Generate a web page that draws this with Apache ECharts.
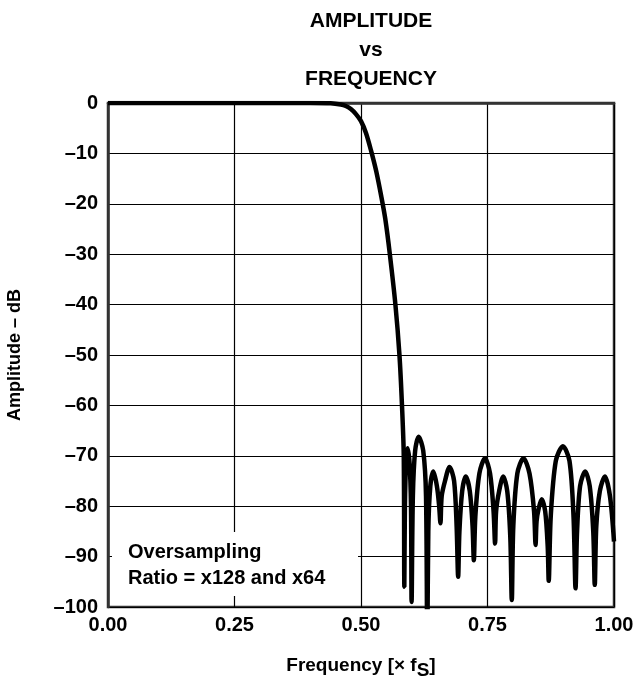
<!DOCTYPE html>
<html>
<head>
<meta charset="utf-8">
<script src="https://cdn.jsdelivr.net/npm/echarts@6/dist/echarts.min.js"></script>
<style>
html,body{margin:0;padding:0;background:#fff;}
#c{width:635px;height:680px;}
</style>
</head>
<body>
<div id="c"></div>
<script>
// Frequency (x fS) and amplitude (dB)
var freq = [0.00, 0.10, 0.20, 0.30, 0.40, 0.44, 0.46, 0.47, 0.48, 0.49, 0.50, 0.51, 0.52, 0.53, 0.54, 0.548, 0.557, 0.568, 0.576, 0.581, 0.5845,
  0.5856, 0.5868, 0.589, 0.592, 0.596, 0.5988,
  0.600, 0.6025, 0.607, 0.614, 0.623, 0.6285,
  0.631, 0.633, 0.637, 0.643, 0.650, 0.6545,
  0.657, 0.6595, 0.666, 0.675, 0.684, 0.689,
  0.692, 0.6945, 0.700, 0.707, 0.715, 0.7205,
  0.723, 0.726, 0.734, 0.745, 0.755, 0.762,
  0.765, 0.767, 0.773, 0.781, 0.789, 0.795,
  0.798, 0.801, 0.809, 0.821, 0.833, 0.842,
  0.845, 0.847, 0.851, 0.857, 0.864, 0.869,
  0.871, 0.875, 0.885, 0.899, 0.912, 0.920,
  0.924, 0.927, 0.933, 0.943, 0.952, 0.959,
  0.962, 0.965, 0.972, 0.982, 0.992, 1.000];
var ampDb = [0, 0, 0, 0, 0, -0.05, -0.3, -0.6, -1.2, -2.2, -3.6, -6, -9.5, -13.5, -18.5, -23, -30, -40, -50, -60, -70,
  -96, -80, -71.5, -68.5, -71.5, -80,
  -99, -78, -69, -66.2, -69, -78,
  -110, -85, -76, -73.1, -76, -80,
  -83.4, -78, -75, -72.2, -75, -84,
  -94, -85, -77, -74.1, -77, -84,
  -90.7, -82, -73.5, -70.5, -73.5, -81,
  -87.4, -81, -77, -74.1, -77, -86,
  -98.6, -84, -73.5, -70.5, -73.5, -81,
  -87.7, -83, -80.5, -78.6, -81, -88,
  -94.8, -82, -71, -68.1, -71, -82,
  -96.3, -85, -76, -73.1, -76, -85,
  -95.6, -84, -77, -74.1, -78, -87];
var xTicks = [0, 0.25, 0.5, 0.75, 1.0];
var titleLines = ['AMPLITUDE', 'vs', 'FREQUENCY'];
var noteLines = ['Oversampling', 'Ratio = x128 and x64'];

var data = freq.map(function (f, i) { return [f, ampDb[i]]; });
var FONT = '"Liberation Sans", Arial, sans-serif';

var chart = echarts.init(document.getElementById('c'), null, {renderer: 'canvas'});
chart.setOption({
  animation: false,
  backgroundColor: '#fff',
  title: {
    text: titleLines.join('\n'),
    left: 366, top: 2, textAlign: 'center',
    textStyle: {fontFamily: FONT, fontWeight: 'bold', fontSize: 21, lineHeight: 29, color: '#000'}
  },
  grid: {left: 108, right: 21, top: 103, bottom: 73, containLabel: false, outerBoundsMode: 'none',
    show: true, borderColor: '#333', borderWidth: 2.5, backgroundColor: 'transparent'},
  xAxis: {
    type: 'value', min: 0, max: 1, interval: 0.25,
    name: 'Frequency [× f{s|S}]', nameLocation: 'middle', nameGap: 44,
    nameTextStyle: {fontFamily: FONT, fontWeight: 'bold', fontSize: 19, color: '#000',
      rich: {s: {fontFamily: FONT, fontWeight: 'bold', fontSize: 19, color: '#000', padding: [10, 0, 0, 0]}}},
    axisLine: {show: true, lineStyle: {color: '#333', width: 2.5}},
    axisTick: {show: false},
    splitLine: {show: true, lineStyle: {color: '#000', width: 1.2}},
    axisLabel: {fontFamily: FONT, fontWeight: 'bold', fontSize: 20, color: '#000', margin: 8,
      formatter: function (v) { return v.toFixed(2); }}
  },
  yAxis: {
    type: 'value', min: -100, max: 0, interval: 10,
    name: 'Amplitude – dB', nameLocation: 'middle', nameRotate: 90, nameGap: 84,
    nameTextStyle: {fontFamily: FONT, fontWeight: 'bold', fontSize: 18, color: '#000'},
    axisLine: {show: true, lineStyle: {color: '#333', width: 2.5}},
    axisTick: {show: false},
    splitLine: {show: true, lineStyle: {color: '#000', width: 1.2}},
    axisLabel: {fontFamily: FONT, fontWeight: 'bold', fontSize: 20, color: '#000', margin: 10,
      formatter: function (v) { return v === 0 ? '0' : '\u2013' + Math.abs(v); }}
  },
  graphic: [
    {type: 'rect', z: 1, shape: {x: 112, y: 532, width: 246, height: 64}, style: {fill: '#fff'}},
    {type: 'text', z: 5, left: 128, top: 539,
      style: {text: noteLines.join('\n'), font: 'bold 20px ' + FONT, lineHeight: 26, fill: '#000'}}
  ],
  series: [{
    type: 'line', data: data, showSymbol: false, smooth: 0.3, clip: true, z: 3,
    lineStyle: {color: '#000', width: 4.5}
  }]
});
</script>
</body>
</html>
